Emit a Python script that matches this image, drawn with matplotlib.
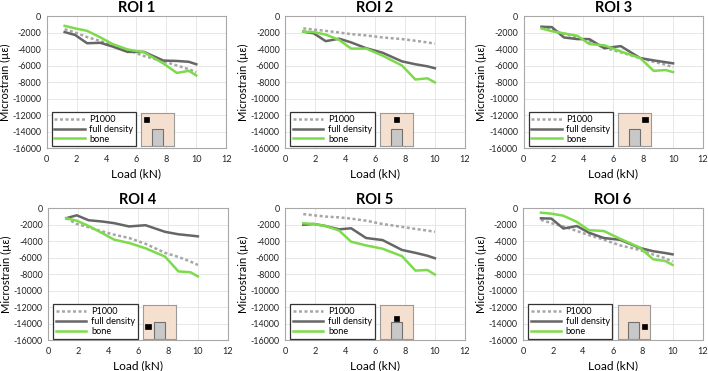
import matplotlib
matplotlib.use("Agg")
import matplotlib.pyplot as plt
from matplotlib.patches import Rectangle

plt.rcParams['font.family'] = ['Lato', 'DejaVu Sans']

load = [1.2, 1.9, 2.7, 3.6, 4.4, 5.4, 6.5, 7.8, 8.7, 9.5, 10.0]

roi_titles = ["ROI 1", "ROI 2", "ROI 3", "ROI 4", "ROI 5", "ROI 6"]

p1000 = [
    [-1600, -2000, -2550, -3050, -3500, -4100, -4850, -5500, -6000, -6450, -6800],
    [-1500, -1650, -1800, -2000, -2200, -2350, -2600, -2800, -3000, -3200, -3350],
    [-1300, -1700, -2150, -2600, -3100, -3850, -4400, -5100, -5550, -5900, -6220],
    [-1200, -1900, -2300, -2800, -3200, -3600, -4300, -5400, -5900, -6450, -6870],
    [-700, -850, -1000, -1100, -1250, -1500, -1900, -2250, -2500, -2700, -2850],
    [-1400, -1800, -2200, -2750, -3250, -3800, -4500, -5050, -5600, -6050, -6470],
]
full_density = [
    [-1950, -2300, -3300, -3250, -3700, -4350, -4350, -5400, -5450, -5550, -5850],
    [-1900, -2100, -3050, -2750, -3200, -3900, -4450, -5500, -5850, -6100, -6330],
    [-1300, -1350, -2600, -2800, -2800, -3900, -3650, -5100, -5380, -5600, -5740],
    [-1200, -850, -1450, -1600, -1800, -2200, -2050, -2850, -3150, -3300, -3400],
    [-2000, -1900, -2150, -2550, -2420, -3600, -3850, -5050, -5400, -5750, -6050],
    [-1210, -1250, -2450, -2150, -2950, -3600, -3820, -4800, -5200, -5420, -5580],
]
bone = [
    [-1200, -1500, -1800, -2600, -3400, -4050, -4400, -5750, -6900, -6650, -7200],
    [-1900, -1950, -2250, -2900, -3950, -3950, -4800, -6000, -7700, -7550, -8050],
    [-1500, -1850, -2100, -2400, -3400, -3550, -4300, -5100, -6650, -6550, -6800],
    [-1210, -1500, -2150, -3000, -3800, -4200, -4850, -5850, -7650, -7750, -8250],
    [-1820, -1900, -2150, -2700, -4050, -4500, -4900, -5800, -7550, -7480, -8030],
    [-530, -650, -900, -1650, -2650, -2750, -3700, -4750, -6180, -6380, -6870],
]

# location of the black ROI marker in the inset schematic (fractions)
marker_pos = [(0.07, 0.72), (0.42, 0.74), (0.74, 0.73),
              (0.07, 0.29), (0.42, 0.54), (0.74, 0.29)]

xticks = [0, 2, 4, 6, 8, 10, 12]
yticks = [0, -2000, -4000, -6000, -8000, -10000, -12000, -14000, -16000]

W, H = 708, 371
fig = plt.figure(figsize=(W / 100, H / 100), dpi=100)

lefts = [46.7, 285.3, 523.5, 48.3, 285.3, 523.0]
tops = [16, 16, 16, 208.3, 208.3, 208.3]
aw, ah = 179.5, 132.0

c_green = '#7ddb4b'
c_gray = '#666666'
c_dot = '#a6a6a6'

for i in range(6):
    ax = fig.add_axes([lefts[i] / W, 1 - (tops[i] + ah) / H, aw / W, ah / H])
    ax.plot(load, p1000[i], color=c_dot, lw=1.8, linestyle=(0, (1.2, 1.0)),
            label='P1000', solid_capstyle='butt', dash_capstyle='butt')
    ax.plot(load, full_density[i], color=c_gray, lw=1.8, label='full density')
    ax.plot(load, bone[i], color=c_green, lw=1.8, label='bone')
    ax.set_xlim(0, 12)
    ax.set_ylim(-16000, 0)
    ax.set_xticks(xticks)
    ax.set_yticks(yticks)
    ax.set_xticklabels([str(t) for t in xticks])
    ax.set_yticklabels([str(t) for t in yticks])
    ax.tick_params(axis='y', length=0, labelsize=6.4, pad=4, colors='#222222')
    ax.tick_params(axis='x', length=0, labelsize=6.6, pad=5, colors='#222222')
    ax.grid(True, color='#e3e3e3', lw=0.6)
    ax.set_axisbelow(True)
    for s in ax.spines.values():
        s.set_color('#a8a8a8')
        s.set_linewidth(0.8)
    ax.set_title(roi_titles[i], fontsize=10.5, fontweight='bold', pad=3)
    ax.set_xlabel('Load (kN)', fontsize=8.6, labelpad=3)
    ax.set_ylabel('Microstrain (µε)', fontsize=8.0, labelpad=1)

    leg = ax.legend(loc='lower left', bbox_to_anchor=(0.028, 0.012, 0.47, 0.255),
                    mode='expand', borderaxespad=0, fontsize=6.6, handlelength=3.3,
                    frameon=True, fancybox=False, labelspacing=0.1,
                    borderpad=0.3, handletextpad=0.5)
    fr = leg.get_frame()
    fr.set_edgecolor('#333333')
    fr.set_linewidth(0.9)
    fr.set_facecolor('white')
    fr.set_alpha(1)

    ins = ax.inset_axes([0.527, 0.012, 0.183, 0.255])
    ins.set_facecolor('#f5dfcf')
    ins.set_xlim(0, 1)
    ins.set_ylim(0, 1)
    ins.set_xticks([])
    ins.set_yticks([])
    for s in ins.spines.values():
        s.set_color('#9a9a9a')
        s.set_linewidth(0.8)
    ins.add_patch(Rectangle((0.33, 0.0), 0.33, 0.51, facecolor='#c8c8c8',
                            edgecolor='#707070', lw=0.8))
    mx, my = marker_pos[i]
    ins.add_patch(Rectangle((mx, my), 0.17, 0.14, facecolor='black',
                            edgecolor='black', lw=0.5))

fig.savefig('out.png', dpi=100)
